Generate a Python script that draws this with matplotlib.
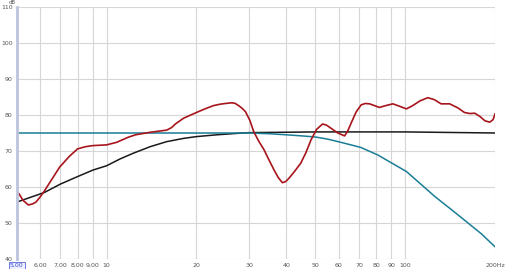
import matplotlib
matplotlib.use("Agg")
import matplotlib.pyplot as plt
from matplotlib.ticker import FixedLocator, NullLocator

# --- data ---
red_f = [5.0, 5.1, 5.25, 5.47, 5.65, 5.8, 6.0, 6.2, 6.6, 6.96, 7.5, 8.0, 8.5, 9.0, 9.5, 10,
         10.8, 11.8, 12.5, 14.0, 15.9, 16.5, 17.0, 18.1, 20, 21.5, 22.8, 24, 25, 26.3, 27.0,
         27.8, 28.5, 29.2, 30.2, 31.1, 32.3, 33.7, 35, 36.4, 37.6, 38.8, 39.8, 40.8, 42.5,
         44.7, 46.5, 48.4, 50.5, 52.9, 54.5, 56.5, 59.5, 62.7, 64.2, 65.9, 68.5, 71.2, 73.5,
         76, 79, 82, 86, 91, 96, 101, 106, 112, 119, 125, 132, 141, 150, 158, 165, 171, 178,
         185, 192, 197, 200]
red_db = [58.9, 58.0, 56.3, 55.0, 55.3, 55.8, 57.3, 59.0, 62.5, 65.5, 68.5, 70.6, 71.2, 71.5, 71.6, 71.7,
          72.4, 73.8, 74.5, 75.2, 75.8, 76.5, 77.5, 79.1, 80.7, 81.8, 82.6, 83.0, 83.2, 83.4, 83.2,
          82.5, 81.8, 80.9, 78.5, 75.4, 72.8, 70.3, 67.5, 64.7, 62.6, 61.2, 61.5, 62.4, 64.2,
          66.6, 69.5, 73.1, 76.0, 77.5, 77.2, 76.3, 75.0, 74.2, 75.5, 77.7, 80.8, 82.8, 83.2,
          83.1, 82.6, 82.1, 82.6, 83.1, 82.4, 81.7, 82.6, 83.9, 84.8, 84.3, 83.1, 83.1, 82.0, 80.7, 80.4, 80.5, 79.6,
          78.4, 78.0, 78.7, 80.3]

teal_f = [5, 30, 35, 40, 45, 50, 55, 61, 71, 81, 90, 101, 115, 126, 145, 163, 180, 200]
teal_db = [75, 75, 74.8, 74.5, 74.2, 73.9, 73.3, 72.4, 71.0, 68.9, 66.7, 64.3, 60.2, 57.3, 53.3, 49.9, 47.0, 43.4]

black_f = [5, 6.2, 7, 8, 9, 10, 11.1, 12.3, 14, 15.9, 18.1, 20, 23.4, 27.4, 30, 50, 100, 200]
black_db = [55.8, 58.5, 60.8, 62.9, 64.7, 65.9, 67.8, 69.4, 71.2, 72.6, 73.5, 74.0, 74.5, 74.9, 75.1, 75.3, 75.3, 75.0]

x_ticks = [5, 6, 7, 8, 9, 10, 20, 30, 40, 50, 60, 70, 80, 90, 100, 200]
x_labels = ["5,00", "6,00", "7,00", "8,00", "9,00", "10", "20", "30", "40", "50",
            "60", "70", "80", "90", "100", "200Hz"]
y_ticks = [40, 50, 60, 70, 80, 90, 100, 110]

fig = plt.figure(figsize=(5.12, 2.69), dpi=100)
ax = fig.add_axes([16.7 / 512, 1 - 259 / 269, (495 - 16.7) / 512, (259 - 7) / 269])
ax.set_xscale("log")
ax.set_xlim(5, 200)
ax.set_ylim(40, 110)

ax.xaxis.set_major_locator(FixedLocator(x_ticks))
ax.xaxis.set_minor_locator(NullLocator())
ax.set_xticklabels(x_labels)
ax.set_yticks(y_ticks)
ax.set_yticklabels([str(v) for v in y_ticks])

ax.grid(True, color="#d6d6d6", linewidth=0.8)
ax.set_axisbelow(True)
ax.tick_params(length=0, labelsize=4.5, labelcolor="#555555", pad=3)

for s in ["top", "right", "bottom"]:
    ax.spines[s].set_visible(False)
ax.spines["left"].set_color("#bcc4dc")
ax.spines["left"].set_linewidth(2)

ax.plot(black_f, black_db, color="#1a1a1a", lw=1.1, solid_joinstyle="round")
ax.plot(teal_f, teal_db, color="#1a7d96", lw=1.1, solid_joinstyle="round")
ax.plot(red_f, red_db, color="#a8141c", lw=1.2, solid_joinstyle="round")

lbl = ax.get_xticklabels()[0]
lbl.set_color("#3a4fd0")
lbl.set_bbox(dict(boxstyle="square,pad=0.2", fc="#eef0ff", ec="#5566dd", lw=0.6))

fig.text(12 / 512, 1 - 2 / 269, "dB", fontsize=4, color="#555555", ha="center", va="center")

fig.savefig("out.png", dpi=100)
